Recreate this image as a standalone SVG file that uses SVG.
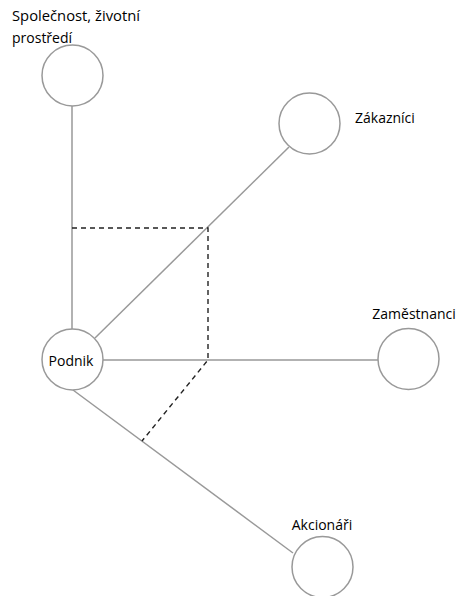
<svg xmlns="http://www.w3.org/2000/svg" width="462" height="596" viewBox="0 0 462 596">
<style>
.c{fill:#fff;stroke:#999;stroke-width:1.5}
.l{stroke:#999;stroke-width:1.5;fill:none}
.d{stroke:#222;stroke-width:1.4;stroke-dasharray:5,4;fill:none}
text{font-family:"Open Sans","Noto Sans",sans-serif;font-size:14px;font-weight:500;fill:#000}
</style>
<rect width="462" height="596" fill="#fff"/>
<g id="connectors">
<line class="l" x1="72" y1="106" x2="72" y2="329"/>
<line class="l" x1="95" y1="338" x2="289" y2="147"/>
<line class="l" x1="103" y1="360" x2="378" y2="360"/>
<line class="l" x1="73" y1="390" x2="293" y2="553"/>
<polyline class="d" points="72,228 208,228 208,360 142,441"/>
</g>
<g id="spolecnost">
<circle class="c" cx="72.5" cy="75.5" r="30.5"/>
<text x="12" y="21" textLength="128" lengthAdjust="spacingAndGlyphs">Společnost, životní</text>
<text x="12" y="43">prostředí</text>
</g>
<g id="zakaznici">
<circle class="c" cx="309.5" cy="123.5" r="30.5"/>
<text x="355" y="123">Zákazníci</text>
</g>
<g id="podnik">
<circle class="c" cx="72.5" cy="359.5" r="30.5"/>
<text x="71" y="366" text-anchor="middle">Podnik</text>
</g>
<g id="zamestnanci">
<circle class="c" cx="408.5" cy="359" r="30.5"/>
<text x="414" y="319" text-anchor="middle">Zaměstnanci</text>
</g>
<g id="akcionari">
<circle class="c" cx="322.5" cy="567" r="30.5"/>
<text x="322" y="530" text-anchor="middle">Akcionáři</text>
</g>
</svg>
